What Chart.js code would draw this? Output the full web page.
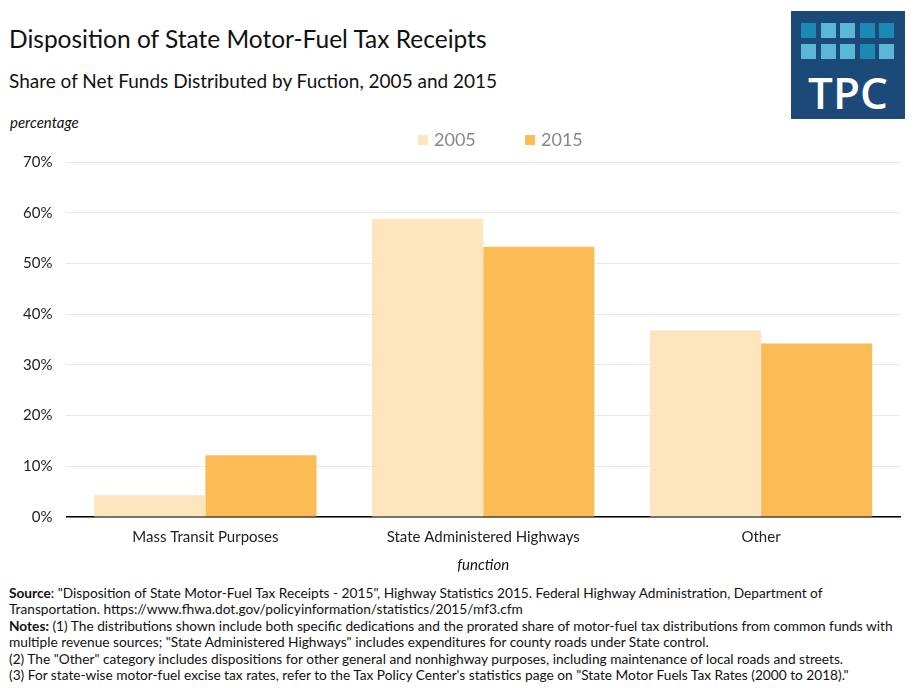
<!DOCTYPE html>
<html>
<head>
<meta charset="utf-8">
<script src="https://cdn.jsdelivr.net/npm/chart.js@4.4.0/dist/chart.umd.min.js"></script>
<style>
  body { margin: 0; background: #fff; font-family: Lato, "Noto Sans", sans-serif; }
  #wrap { position: relative; width: 914px; height: 688px; overflow: hidden; }
  .title { position: absolute; left: 9px; top: 24px; font-size: 24.5px; color: #111; }
  .subtitle { position: absolute; left: 9px; top: 69px; font-size: 19px; color: #111; }
  .ylab { position: absolute; left: 10px; top: 113px; font-size: 15px; font-style: italic; color: #111; }
  #chartBox { position: absolute; left: 0; top: 139px; width: 914px; height: 439px; }
  .legend { position: absolute; top: 128px; font-size: 18px; color: #8a8686; }
  .legend span.box { display: inline-block; width: 10px; height: 10px; vertical-align: 1px; margin-right: 6px; }
  .notes { position: absolute; left: 9px; top: 585px; white-space: nowrap; font-size: 13.7px; line-height: 16.4px; color: #111; }
  .logo { position: absolute; left: 791px; top: 11px; width: 114px; height: 108px; background: #1b4a78; }
  .sq { position: absolute; width: 15px; height: 15px; }
  .tpc { position: absolute; left: 0; width: 114px; top: 59px; text-align: center; color: #fff; font-family: "Open Sans", Lato, sans-serif; font-weight: 600; font-size: 44px; line-height: 44px; letter-spacing: 0px; }
</style>
</head>
<body>
<div id="wrap">
  <div class="title">Disposition of State Motor-Fuel Tax Receipts</div>
  <div class="subtitle">Share of Net Funds Distributed by Fuction, 2005 and 2015</div>
  <div class="ylab">percentage</div>
  <div id="chartBox"><canvas id="myChart"></canvas></div>
  <div class="legend" style="left:418px"><span class="box" style="background:#fde5bd"></span>2005</div>
  <div class="legend" style="left:525px"><span class="box" style="background:#fdbb55"></span>2015</div>
  <div class="logo" id="logo"><div class="tpc">TPC</div></div>
  <div class="notes">
    <b>Source</b>: "Disposition of State Motor-Fuel Tax Receipts - 2015", Highway Statistics 2015. Federal Highway Administration, Department of<br>
    Transportation. https://www.fhwa.dot.gov/policyinformation/statistics/2015/mf3.cfm<br>
    <b>Notes:</b> (1) The distributions shown include both specific dedications and the prorated share of motor-fuel tax distributions from common funds with<br>
    multiple revenue sources; "State Administered Highways" includes expenditures for county roads under State control.<br>
    (2) The "Other" category includes dispositions for other general and nonhighway purposes, including maintenance of local roads and streets.<br>
    (3) For state-wise motor-fuel excise tax rates, refer to the Tax Policy Center's statistics page on "State Motor Fuels Tax Rates (2000 to 2018)."
  </div>
</div>
<script>
// logo squares
var logo = document.getElementById('logo');
var sqColors = [
  ['#1a8ab5', '#5ab8d6', '#5ab8d6', '#1a8ab5', '#1a8ab5'],
  ['#5ab8d6', '#5ab8d6', '#5ab8d6', '#1a8ab5', '#5ab8d6']
];
for (var r = 0; r < 2; r++) {
  for (var c = 0; c < 5; c++) {
    var s = document.createElement('div');
    s.className = 'sq';
    s.style.left = (10 + c * 19.5) + 'px';
    s.style.top = (12 + r * 21) + 'px';
    s.style.background = sqColors[r][c];
    logo.appendChild(s);
  }
}

var categories = ['Mass Transit Purposes', 'State Administered Highways', 'Other'];
var values2005 = [4.3, 58.8, 36.8];
var values2015 = [12.2, 53.3, 34.2];
var yTicks = [0, 10, 20, 30, 40, 50, 60, 70];

const ctx = document.getElementById('myChart');
new Chart(ctx, {
    type: 'bar',
    data: {
        labels: categories,
        datasets: [{
            label: '2005',
            data: values2005,
            backgroundColor: '#fde5bd',
            categoryPercentage: 0.8,
            barPercentage: 1.0
        }, {
            label: '2015',
            data: values2015,
            backgroundColor: '#fdbb55',
            categoryPercentage: 0.8,
            barPercentage: 1.0
        }]
    },
    options: {
        responsive: true,
        maintainAspectRatio: false,
        animation: false,
        layout: { padding: { left: 9, right: 14, top: 0, bottom: 0 } },
        plugins: {
            legend: { display: false },
            tooltip: { enabled: false }
        },
        scales: {
            x: {
                grid: { display: false },
                border: { color: '#000', width: 1.5 },
                ticks: { color: '#222', font: { family: 'Lato', size: 15 }, padding: 3 },
                title: {
                    display: true,
                    text: 'function',
                    color: '#111',
                    font: { family: 'Lato', size: 15, style: 'italic' },
                    padding: { top: 7 }
                }
            },
            y: {
                min: 0,
                max: 70,
                afterBuildTicks: function (axis) {
                    axis.ticks = yTicks.map(function (v) { return { value: v }; });
                },
                grid: { color: '#e8e8e8', drawTicks: false },
                border: { display: false },
                ticks: {
                    color: '#222',
                    padding: 14,
                    font: { family: 'Lato', size: 15 },
                    callback: function (v) { return v + '%'; }
                }
            }
        }
    }
});
</script>
</body>
</html>
